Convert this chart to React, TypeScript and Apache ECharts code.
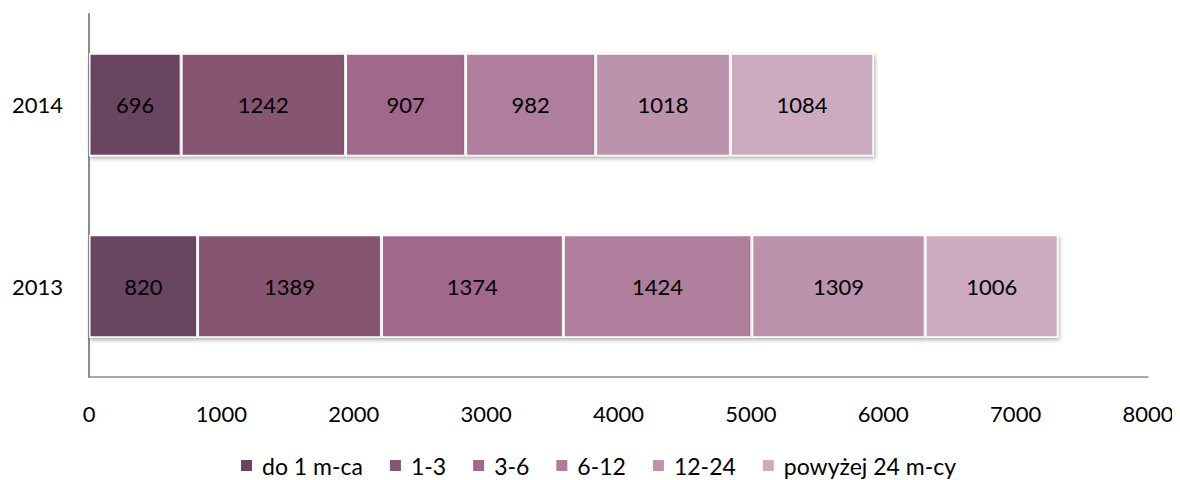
import React, { useEffect, useRef } from "react";
import * as echarts from "echarts";

const years = ["2013", "2014"];
const seriesNames = ["do 1 m-ca", "1-3", "3-6", "6-12", "12-24", "powyżej 24 m-cy"];
const colors = ["#6b4460", "#865572", "#a1688c", "#ae7e9c", "#bc93ad", "#ccabc1"];
const v_do1 = [820, 696];
const v_1_3 = [1389, 1242];
const v_3_6 = [1374, 907];
const v_6_12 = [1424, 982];
const v_12_24 = [1309, 1018];
const v_pow24 = [1006, 1084];
const values = [v_do1, v_1_3, v_3_6, v_6_12, v_12_24, v_pow24];

const FONT = "Lato, 'Open Sans', sans-serif";
const FS = 22;

export default function App() {
  const ref = useRef<HTMLDivElement>(null);
  useEffect(() => {
    if (!ref.current) return;
    const chart = echarts.init(ref.current, undefined, { renderer: "svg" });
    chart.setOption({
      animation: false,
      textStyle: { fontFamily: FONT },
      grid: { left: 89, right: 32, top: 14, bottom: 103 },
      legend: {
        top: 454,
        left: 239,
        padding: 0,
        itemWidth: 13,
        itemHeight: 13,
        itemGap: 25,
        icon: "rect",
        textStyle: {
          fontSize: 23,
          lineHeight: 23,
          color: "#000",
          fontFamily: FONT,
          padding: [0, 0, 0, 4],
        },
        data: seriesNames,
      },
      xAxis: {
        type: "value",
        min: 0,
        max: 8000,
        interval: 1000,
        splitLine: { show: false },
        axisLine: { show: true, lineStyle: { color: "#8c8c8c", width: 1.5 } },
        axisTick: { show: false },
        axisLabel: {
          fontSize: FS,
          color: "#000",
          margin: 25,
          fontFamily: FONT,
          formatter: (v: number) => String(v),
        },
      },
      yAxis: {
        type: "category",
        data: years,
        axisLine: { show: true, lineStyle: { color: "#8c8c8c", width: 2 } },
        axisTick: { show: false },
        axisLabel: { fontSize: FS, color: "#000", margin: 26, fontFamily: FONT },
      },
      series: seriesNames.map((name, i) => ({
        name,
        type: "bar",
        stack: "total",
        barWidth: 103,
        data: values[i],
        itemStyle: {
          color: colors[i],
          borderColor: "#ffffff",
          borderWidth: 1.5,
          shadowColor: "rgba(0,0,0,0.35)",
          shadowBlur: 4,
          shadowOffsetX: 1,
          shadowOffsetY: 2,
        },
        label: {
          show: true,
          position: "inside",
          fontSize: FS,
          color: "#000",
          fontFamily: FONT,
        },
      })),
    });
    return () => chart.dispose();
  }, []);
  return <div ref={ref} style={{ width: 1180, height: 480, margin: "-8px -8px 0 -8px" }} />;
}
